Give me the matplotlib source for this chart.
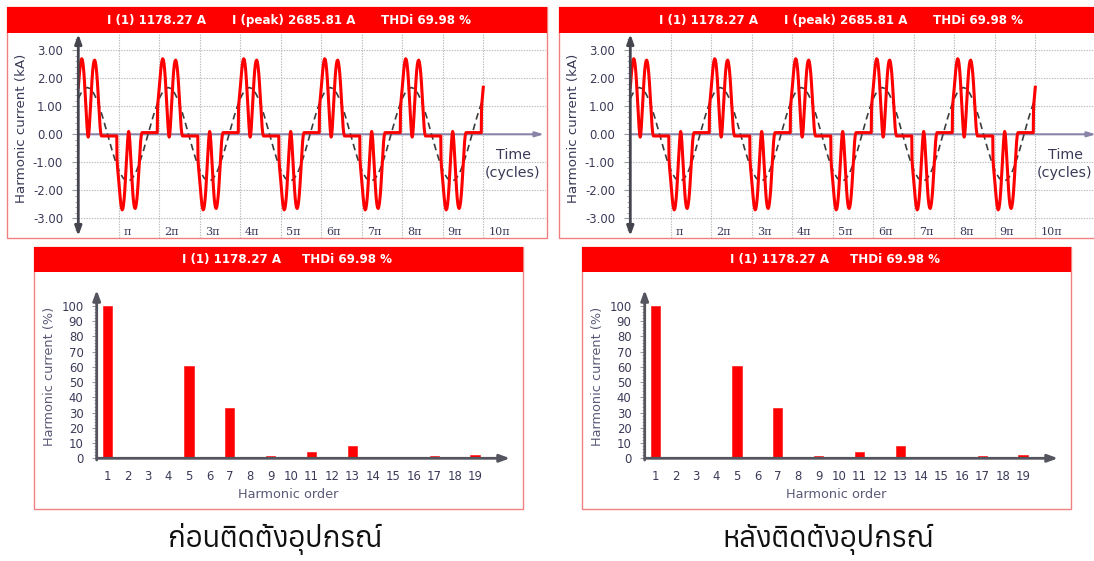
import numpy as np
import matplotlib
matplotlib.use("Agg")
import matplotlib.pyplot as plt
from matplotlib.patches import Rectangle
from matplotlib import font_manager
from matplotlib.ft2font import FT2Font

# ---------------------------------------------------------------- data
# one current pulse, angle (deg) measured from its leading edge
pulse_deg = [0, 1, 3, 6, 9, 12, 15, 18, 21, 24, 27, 30, 33, 36, 39, 42, 45, 48,
             51, 53, 55, 58, 61, 64, 67, 70, 73, 76, 79, 82, 85, 88, 91, 94, 97,
             100, 103, 106, 109, 112]
# positive pulse current (kA)
pos_pulse = [0.06, 0.85, 1.15, 1.4, 1.68, 1.98, 2.25, 2.48, 2.63, 2.7, 2.66, 2.52,
             2.28, 1.95, 1.55, 1.1, 0.65, 0.25, -0.04, -0.1, -0.04, 0.25, 0.65,
             1.1, 1.55, 1.95, 2.28, 2.5, 2.62, 2.65, 2.58, 2.42, 2.18, 1.85, 1.45,
             1.02, 0.6, 0.25, 0.03, -0.06]
# negative pulse current (kA)
neg_pulse = [-0.06, -0.85, -1.15, -1.4, -1.68, -1.98, -2.25, -2.48, -2.63, -2.7,
             -2.66, -2.52, -2.28, -1.95, -1.55, -1.1, -0.65, -0.25, 0.04, 0.1, 0.04,
             -0.25, -0.65, -1.1, -1.55, -1.95, -2.28, -2.5, -2.62, -2.65, -2.58,
             -2.42, -2.18, -1.85, -1.45, -1.02, -0.6, -0.25, -0.03, 0.06]
pulse_start_deg = -9          # leading edge of the first positive pulse

# fundamental component, one period from its crest, every 10 deg (kA)
fund_deg = list(range(0, 360, 10))
fund_kA = [1.67, 1.64, 1.57, 1.44, 1.28, 1.07, 0.83, 0.57, 0.29, 0.0,
           -0.29, -0.57, -0.83, -1.07, -1.28, -1.44, -1.57, -1.64, -1.67,
           -1.64, -1.57, -1.44, -1.28, -1.07, -0.83, -0.57, -0.29, 0.0,
           0.29, 0.57, 0.83, 1.07, 1.28, 1.44, 1.57, 1.64]
fund_crest_deg = 40
n_cycles = 5

wave_yticks = [3, 2, 1, 0, -1, -2, -3]
pi_labels = ["π", "2π", "3π", "4π", "5π", "6π", "7π", "8π", "9π", "10π"]

harm_order = list(range(1, 20))
harm_pct = [100, 0, 0.5, 0, 60.7, 0, 33.3, 0, 1.2, 0, 4.2, 0, 8.3, 0, 0.5, 0,
            1.5, 0, 2.2]
spec_yticks = list(range(0, 101, 10))

header_wave = ["I (1) 1178.27 A", "I (peak) 2685.81 A", "THDi 69.98 %"]
header_spec = ["I (1) 1178.27 A", "THDi 69.98 %"]
captions = ["ก่อนติดตั้งอุปกรณ์", "หลังติดตั้งอุปกรณ์"]

# ---------------------------------------------------------------- style
W, H = 1094, 561
RED = "#ff0000"
BORDER = "#f08080"
TXT = "#3a3a58"
AXIS = "#45454f"
GRID = "#b8b8b8"


def find_thai():
    for f in sorted(font_manager.fontManager.ttflist, key=lambda f: f.name):
        try:
            if 0x0E01 in FT2Font(f.fname).get_charmap():
                return f.name
        except Exception:
            pass
    return "DejaVu Sans"


THAI = find_thai()

fig = plt.figure(figsize=(W / 100, H / 100), dpi=100)


def fx(x):
    return x / W


def fy(y):
    return 1 - y / H


def box(x0, y0, x1, y1, z, **kw):
    fig.add_artist(Rectangle((fx(x0), fy(y1)), (x1 - x0) / W, (y1 - y0) / H,
                             transform=fig.transFigure, zorder=z, **kw))


def axes_px(x0, y0, x1, y1):
    return fig.add_axes([fx(x0), fy(y1), (x1 - x0) / W, (y1 - y0) / H])


def ptext(x, y, s, **kw):
    fig.text(fx(x), fy(y), s, **kw)


# build the waveform series
t_red, i_red = [], []
for k in range(-1, n_cycles + 1):
    base = 360 * k + pulse_start_deg
    for a, v in zip(pulse_deg, pos_pulse):
        t_red.append(base + a)
        i_red.append(v)
    for a, v in zip(pulse_deg, neg_pulse):
        t_red.append(base + 180 + a)
        i_red.append(v)
t_red = np.array(t_red, float)
i_red = np.array(i_red, float)
keep = (t_red >= 0) & (t_red <= 360 * n_cycles)
x_red, y_red = t_red[keep] / 180, i_red[keep]

t_f = np.array([fund_crest_deg + d + 360 * k for k in range(-1, n_cycles + 1)
                for d in fund_deg], float)
i_f = np.array(fund_kA * (n_cycles + 2), float)
keep = (t_f >= 0) & (t_f <= 360 * n_cycles)
x_f, y_f = t_f[keep] / 180, i_f[keep]


def wave_panel(ox):
    box(7 + ox, 7, 547 + ox, 238, -3, facecolor="white", edgecolor=BORDER, lw=1)
    box(7 + ox, 7, 547 + ox, 33, -2, facecolor=RED, edgecolor="none")
    for s, xp in zip(header_wave, [107, 232, 381]):
        ptext(xp + ox, 20.5, s, color="white", fontsize=8.6, fontweight="bold",
              ha="left", va="center")
    x0, scale = 78.3 + ox, 40.5
    ax = axes_px(x0, 33, 546 + ox, 238)
    ax.set_xlim(0, (546 + ox - x0) / scale)
    ax.set_ylim((134.3 - 238) / 28, (134.3 - 33) / 28)
    for sp in ax.spines.values():
        sp.set_visible(False)
    ax.patch.set_alpha(0)
    for k in range(1, 11):
        ax.axvline(k, color=GRID, lw=0.8, ls=(0, (1.2, 1.2)), zorder=0)
    for v in wave_yticks:
        if v != 0:
            ax.axhline(v, color=GRID, lw=0.8, ls=(0, (1.2, 1.2)), zorder=0)
    ax.set_yticks(wave_yticks)
    ax.set_yticklabels([f"{v:.2f}" for v in wave_yticks], color=TXT, fontsize=8.4)
    ax.set_yticks(np.arange(-3.4, 3.5, 0.2), minor=True)
    ax.tick_params(axis="y", which="major", length=4, width=0.8, color="#9a9aa6", pad=7)
    ax.tick_params(axis="y", which="minor", length=2.5, width=0.6, color="#9a9aa6")
    ax.set_xticks([])
    for k, lab in enumerate(pi_labels, start=1):
        ax.text(k + 0.12, -3.48, lab, fontsize=8, family="DejaVu Serif",
                color=TXT, ha="left", va="center")
    ax.plot(x_f, y_f, color="#3c3c3c", lw=1.2, dashes=(4, 2.6), zorder=3)
    ax.plot(x_red, y_red, color=RED, lw=2.2, zorder=4, solid_joinstyle="round")
    ax.annotate("", xy=((544 + ox - x0) / scale, 0), xytext=(0, 0),
                arrowprops=dict(arrowstyle="-|>,head_length=0.5,head_width=0.15",
                                color="#8a84a8", lw=1.5, shrinkA=0, shrinkB=0),
                annotation_clip=False, zorder=2)
    ax.annotate("", xy=(0, (134.3 - 34) / 28), xytext=(0, (134.3 - 236) / 28),
                arrowprops=dict(arrowstyle="<|-|>,head_length=0.55,head_width=0.2",
                                color=AXIS, lw=2, shrinkA=0, shrinkB=0),
                annotation_clip=False, zorder=5)
    ptext(513 + ox, 155, "Time", fontsize=10.3, color=TXT, ha="center", va="center")
    ptext(513 + ox, 173, "(cycles)", fontsize=10.3, color=TXT, ha="center", va="center")
    ptext(22 + ox, 128, "Harmonic current (kA)", fontsize=9.6, color=TXT,
          rotation=90, ha="center", va="center")


def spec_panel(ox):
    box(34 + ox, 247, 523 + ox, 509, -3, facecolor="white", edgecolor=BORDER, lw=1)
    box(34 + ox, 247, 523 + ox, 272, -2, facecolor=RED, edgecolor="none")
    for s, xp in zip(header_spec, [181.7, 301.7]):
        ptext(xp + ox, 260, s, color="white", fontsize=8.6, fontweight="bold",
              ha="left", va="center")
    x0, xs = 96.7 + ox, 20.43
    y0, ys = 458.3, 1.523
    ax = axes_px(x0, 285, 523 + ox, 462)
    xl = 1 - (107.3 + ox - x0) / xs
    ax.set_xlim(xl, xl + (523 + ox - x0) / xs)
    ax.set_ylim((y0 - 462) / ys, (y0 - 285) / ys)
    for sp in ax.spines.values():
        sp.set_visible(False)
    ax.patch.set_alpha(0)
    ax.bar(harm_order, harm_pct, width=0.45, color=RED, edgecolor="#ff2020",
           lw=0.5, zorder=3)
    ax.set_xticks(harm_order)
    ax.set_xticklabels([str(v) for v in harm_order], fontsize=8.4, color=TXT)
    ax.tick_params(axis="x", length=0, pad=6)
    ax.set_yticks(spec_yticks)
    ax.set_yticklabels([str(v) for v in spec_yticks], fontsize=8.4, color=TXT)
    ax.set_yticks(np.arange(0, 101, 2), minor=True)
    ax.tick_params(axis="y", which="major", length=3.5, width=0.8, color="#9a9aa6", pad=6)
    ax.tick_params(axis="y", which="minor", length=2, width=0.6, color="#9a9aa6")
    ax.annotate("", xy=(xl + (510 + ox - x0) / xs, 0), xytext=(xl, 0),
                arrowprops=dict(arrowstyle="-|>,head_length=0.6,head_width=0.22",
                                color="#55555f", lw=2, shrinkA=0, shrinkB=0),
                annotation_clip=False, zorder=5)
    ax.annotate("", xy=(xl, (y0 - 290) / ys), xytext=(xl, (y0 - 460) / ys),
                arrowprops=dict(arrowstyle="-|>,head_length=0.6,head_width=0.22",
                                color="#55555f", lw=2, shrinkA=0, shrinkB=0),
                annotation_clip=False, zorder=5)
    ptext(288 + ox, 494, "Harmonic order", fontsize=9.3, color="#5a5a78",
          ha="center", va="center")
    ptext(50 + ox, 376, "Harmonic current (%)", fontsize=9.3, color="#5a5a78",
          rotation=90, ha="center", va="center")


wave_panel(0)
wave_panel(552)
spec_panel(0)
spec_panel(548)

for s, xc in zip(captions, [275, 828]):
    ptext(xc, 539, s, fontsize=21, fontweight="light", family=[THAI, "DejaVu Sans"],
          color="#111111", ha="center", va="center")

fig.savefig("out.png", dpi=100)
